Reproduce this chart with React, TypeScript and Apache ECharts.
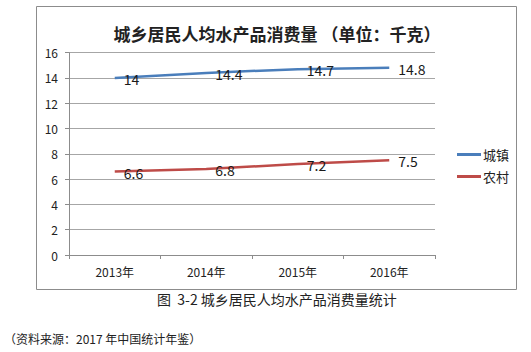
import React, { useEffect, useRef } from "react";
import * as echarts from "echarts";

const categories = ["2013年", "2014年", "2015年", "2016年"];
const urban = [14, 14.4, 14.7, 14.8];
const rural = [6.6, 6.8, 7.2, 7.5];
const seriesNames = ["城镇", "农村"];
const chartTitle = "城乡居民人均水产品消费量 （单位：千克）";
const caption = "图  3-2 城乡居民人均水产品消费量统计";
const source = "（资料来源：2017 年中国统计年鉴）";

const FONT = "'Noto Sans CJK SC', 'Noto Sans', sans-serif";

export default function App() {
  const ref = useRef<HTMLDivElement>(null);
  useEffect(() => {
    if (!ref.current) return;
    const chart = echarts.init(ref.current, undefined, { renderer: "svg" });
    const labelStyle = {
      show: true,
      position: "right" as const,
      distance: 9,
      offset: [0, 1],
      fontSize: 14,
      color: "#1a1a1a",
      fontFamily: FONT,
    };
    chart.setOption({
      animation: false,
      backgroundColor: "#fff",
      textStyle: { fontFamily: FONT },
      title: {
        text: chartTitle,
        left: 272,
        top: 20,
        textAlign: "center",
        textStyle: { fontSize: 17, fontWeight: "bold", color: "#222", fontFamily: FONT },
      },
      legend: {
        orient: "vertical",
        left: 452,
        top: 143,
        itemWidth: 24,
        itemHeight: 3,
        itemGap: 9,
        icon: "rect",
        textStyle: { fontSize: 13, color: "#222", padding: [0, 0, 0, -3] },
        data: seriesNames,
      },
      grid: { left: 69, right: 96, top: 52.7, bottom: 97, containLabel: false },
      xAxis: {
        type: "category",
        data: categories,
        boundaryGap: true,
        axisLine: { lineStyle: { color: "#8c8c8c", width: 1 } },
        axisTick: { show: true, length: 4, lineStyle: { color: "#8c8c8c" } },
        axisLabel: { fontSize: 12, color: "#222", margin: 10 },
      },
      yAxis: {
        type: "value",
        min: 0,
        max: 16,
        interval: 2,
        axisLine: { show: true, lineStyle: { color: "#8c8c8c", width: 1 } },
        axisTick: { show: true, length: 4, lineStyle: { color: "#8c8c8c" } },
        axisLabel: { fontSize: 12, color: "#222", margin: 11 },
        splitLine: { show: true, lineStyle: { color: "#a6a6a6", width: 1 } },
      },
      series: [
        {
          name: seriesNames[0],
          type: "line",
          data: urban,
          symbol: "circle",
          symbolSize: 0,
          showSymbol: true,
          lineStyle: { color: "#4A7EBB", width: 2.5 },
          itemStyle: { color: "#4A7EBB" },
          label: labelStyle,
          z: 3,
        },
        {
          name: seriesNames[1],
          type: "line",
          data: rural,
          symbol: "circle",
          symbolSize: 0,
          showSymbol: true,
          lineStyle: { color: "#BE4B48", width: 2.5 },
          itemStyle: { color: "#BE4B48" },
          label: labelStyle,
          z: 3,
        },
      ],
      graphic: [
        {
          type: "rect",
          shape: { x: 36.5, y: 6.5, width: 480, height: 283 },
          style: { fill: "none", stroke: "#8c8c8c", lineWidth: 1 },
          silent: true,
          z: -1,
        },
        {
          type: "text",
          left: 157,
          top: 292,
          style: { text: caption, fontSize: 14, fill: "#222", fontFamily: FONT },
        },
        {
          type: "text",
          left: 4,
          top: 332,
          style: { text: source, fontSize: 12, fill: "#222", fontFamily: FONT },
        },
      ],
    });
    return () => chart.dispose();
  }, []);
  return (
    <div
      ref={ref}
      style={{ position: "fixed", left: 0, top: 0, width: 531, height: 352 }}
    />
  );
}
